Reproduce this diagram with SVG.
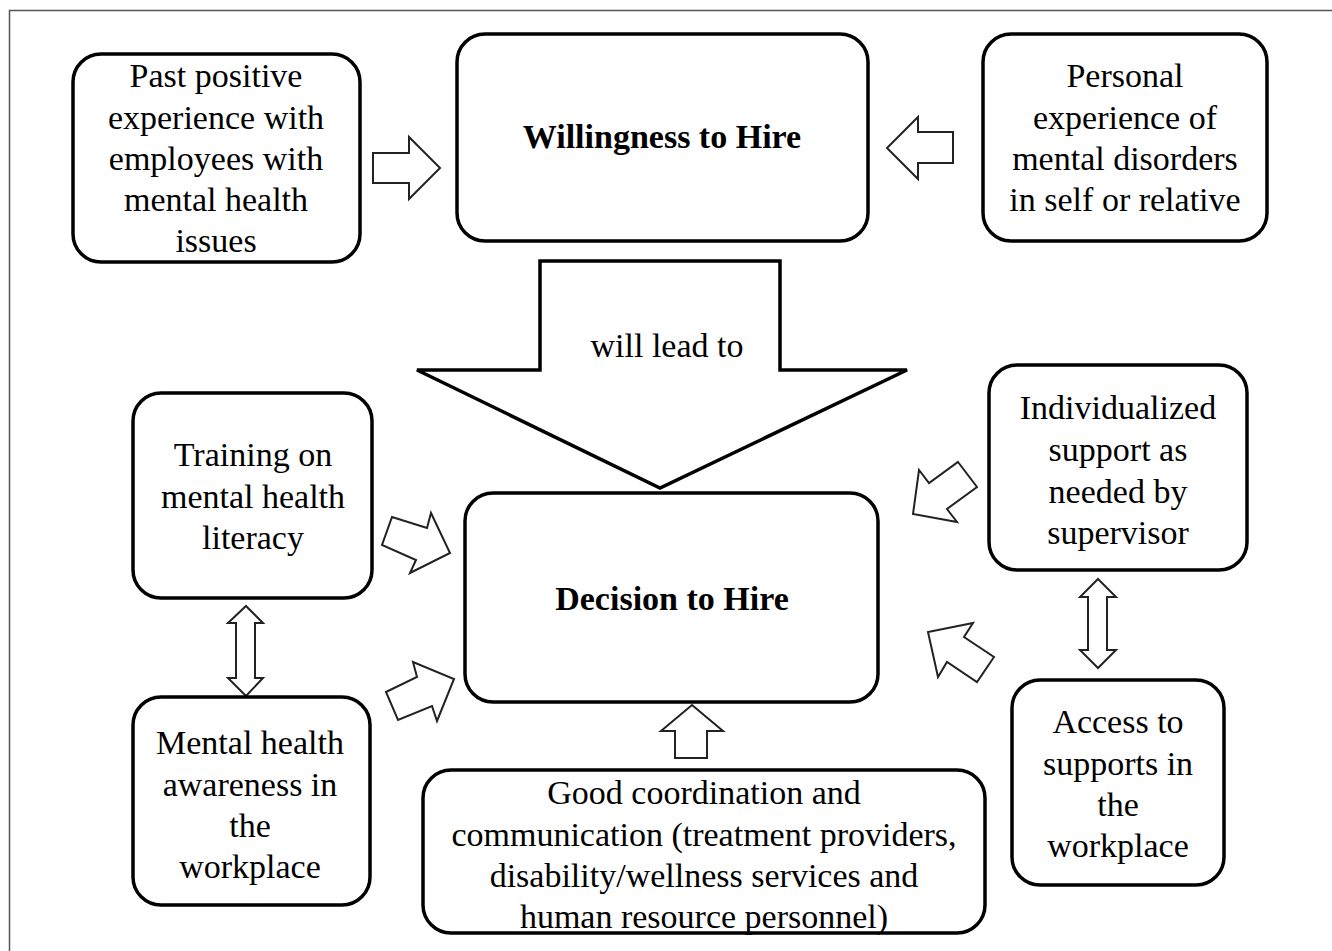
<svg xmlns="http://www.w3.org/2000/svg" width="1332" height="951" viewBox="0 0 1332 951">
<style>
.box{fill:#fff;stroke:#000;stroke-width:3.5}
.arr{fill:#fff;stroke:#222;stroke-width:2;stroke-linejoin:miter}
.big{fill:#fff;stroke:#000;stroke-width:3.5}
text{font-family:'Liberation Serif','DejaVu Serif',serif;font-size:34px;fill:#000;text-anchor:middle}
.b{font-weight:bold}
</style>
<rect x="0" y="0" width="1332" height="951" fill="#fff"/>
<path d="M9.5 951 V10.5 H1332" fill="none" stroke="#555" stroke-width="1.5"/>
<g id="connectors">
<polygon class="big" points="540,261 780,261 780,370 907,370 660,488 417,370 540,370"/>
<text x="667" y="357">will lead to</text>
<polygon class="arr" points="373,153 409,153 409,137 440,168 409,199 409,183 373,183"/>
<polygon class="arr" points="953,132 918,132 918,117 887,148 918,179 918,163 953,163"/>
<polygon class="arr" points="392,517 427,528 431,513 450,553 410,573 416,560 382,545"/>
<polygon class="arr" points="386,692 417,677 413,662 454,679 437,721 432,706 398,720"/>
<polygon class="arr" points="958,462 977,487 947,509 957,522 913,514 919,470 929,483"/>
<polygon class="arr" points="994,657 977,682 947,662 938,677 928,632 973,623 964,637"/>
<polygon class="arr" points="1098,579 1116,597 1107,597 1107,650 1116,650 1098,668 1080,650 1088,650 1088,597 1080,597"/>
<polygon class="arr" points="246,606 263,623 255,623 255,678 263,678 246,696 228,678 236,678 236,623 228,623"/>
<polygon class="arr" points="692,705 723,731 707,731 707,758 675,758 675,731 661,731"/>
</g>
<g id="past">
<rect class="box" x="73" y="54" width="287" height="208" rx="28"/>
<text x="216" y="87">Past positive</text>
<text x="216" y="129">experience with</text>
<text x="216" y="170">employees with</text>
<text x="216" y="211">mental health</text>
<text x="216" y="252">issues</text>
</g>
<g id="willingness">
<rect class="box" x="457" y="34" width="411" height="207" rx="28"/>
<text class="b" x="662" y="148">Willingness to Hire</text>
</g>
<g id="personal">
<rect class="box" x="983" y="34" width="284" height="207" rx="28"/>
<text x="1125" y="87">Personal</text>
<text x="1125" y="129">experience of</text>
<text x="1125" y="170">mental disorders</text>
<text x="1125" y="211">in self or relative</text>
</g>
<g id="training">
<rect class="box" x="133" y="393" width="239" height="205" rx="28"/>
<text x="253" y="466">Training on</text>
<text x="253" y="508">mental health</text>
<text x="253" y="549">literacy</text>
</g>
<g id="decision">
<rect class="box" x="465" y="493" width="413" height="209" rx="28"/>
<text class="b" x="672" y="610">Decision to Hire</text>
</g>
<g id="individualized">
<rect class="box" x="989" y="365" width="258" height="205" rx="28"/>
<text x="1118" y="419">Individualized</text>
<text x="1118" y="461">support as</text>
<text x="1118" y="503">needed by</text>
<text x="1118" y="544">supervisor</text>
</g>
<g id="awareness">
<rect class="box" x="133" y="697" width="237" height="208" rx="28"/>
<text x="250" y="754">Mental health</text>
<text x="250" y="796">awareness in</text>
<text x="250" y="837">the</text>
<text x="250" y="878">workplace</text>
</g>
<g id="coordination">
<rect class="box" x="423" y="770" width="562" height="163" rx="28"/>
<text x="704" y="804">Good coordination and</text>
<text x="704" y="846">communication (treatment providers,</text>
<text x="704" y="887">disability/wellness services and</text>
<text x="704" y="928">human resource personnel)</text>
</g>
<g id="access">
<rect class="box" x="1012" y="680" width="212" height="205" rx="28"/>
<text x="1118" y="733">Access to</text>
<text x="1118" y="775">supports in</text>
<text x="1118" y="816">the</text>
<text x="1118" y="857">workplace</text>
</g>
</svg>
